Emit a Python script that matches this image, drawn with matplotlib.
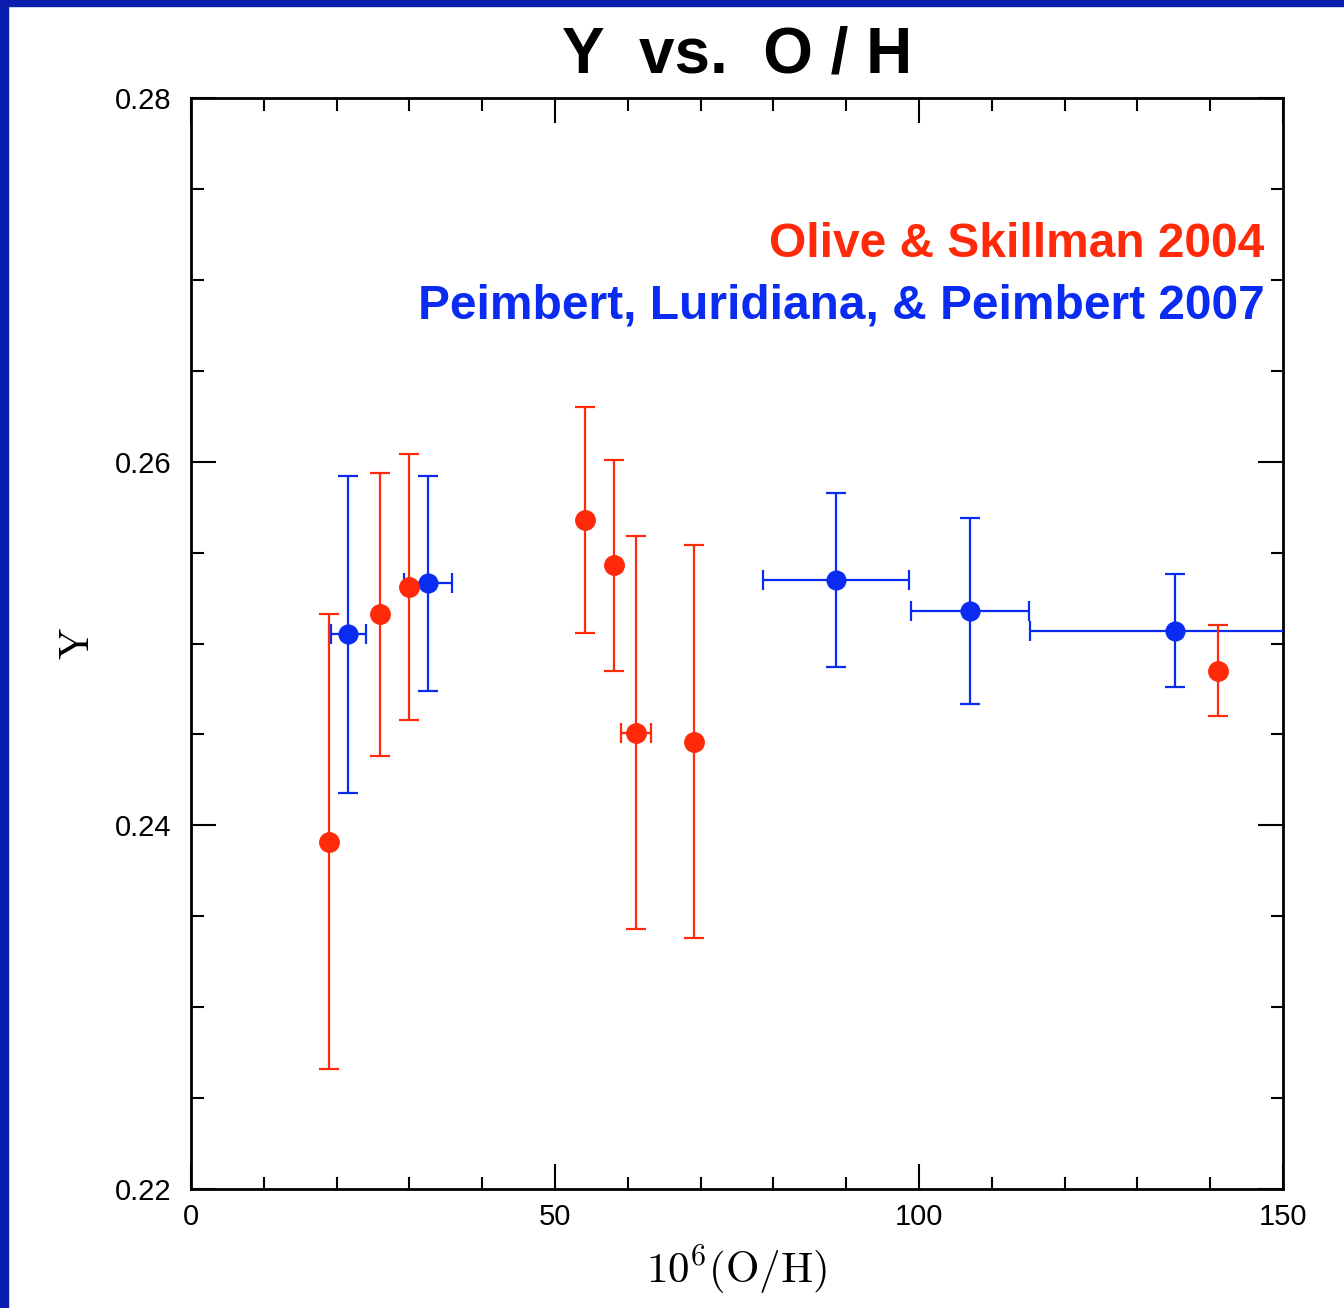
import matplotlib
matplotlib.use("Agg")
import matplotlib.pyplot as plt
from matplotlib.patches import Rectangle
from matplotlib.ticker import MultipleLocator

plt.rcParams["mathtext.fontset"] = "cm"

# Olive & Skillman 2004 (red)
os_x = [19.0, 26.0, 30.0, 54.1, 58.1, 61.1, 69.1, 141.1]
os_y = [0.2391, 0.2516, 0.2531, 0.2568, 0.2543, 0.2451, 0.2446, 0.2485]
os_yerr = [0.0125, 0.0078, 0.0073, 0.0062, 0.0058, 0.0108, 0.0108, 0.0025]
os_xerr = [0.0, 0.0, 0.0, 0.0, 0.0, 2.05, 0.0, 0.0]

# Peimbert, Luridiana & Peimbert 2007 (blue)
plp_x = [21.6, 32.5, 88.6, 107.0, 135.2]
plp_y = [0.2505, 0.2533, 0.2535, 0.2518, 0.2507]
plp_yerr = [0.0087, 0.0059, 0.0048, 0.0051, 0.0031]
plp_xerr = [2.4, 3.3, 10.0, 8.1, 20.0]

xticks_major = [0, 50, 100, 150]
yticks_major = [0.22, 0.24, 0.26, 0.28]
ytick_labels = ["0.22", "0.24", "0.26", "0.28"]

RED = "#ff2a0a"
BLUE = "#0a2cf2"
TICKFONT = ["Liberation Sans", "DejaVu Sans"]

fig = plt.figure(figsize=(13.44, 13.08), dpi=100)
fig.patch.set_facecolor("white")
# slide border (top and left)
fig.patches.append(Rectangle((0, 1 - 6 / 1308), 1, 6 / 1308, transform=fig.transFigure,
                             color="#0a1fb0", zorder=0))
fig.patches.append(Rectangle((0, 0), 8 / 1344, 1, transform=fig.transFigure,
                             color="#0a1fb0", zorder=0))

ax = fig.add_axes([191 / 1344, 119 / 1308, 1092 / 1344, 1091 / 1308])
ax.set_xlim(0, 150)
ax.set_ylim(0.22, 0.28)

ax.errorbar(plp_x, plp_y, yerr=plp_yerr, xerr=plp_xerr, fmt="o", color=BLUE,
            ecolor=BLUE, markersize=13.5, elinewidth=1.6, capsize=7, capthick=1.6,
            zorder=3)
ax.errorbar(os_x, os_y, yerr=os_yerr, xerr=os_xerr, fmt="o", color=RED,
            ecolor=RED, markersize=14, elinewidth=1.6, capsize=7, capthick=1.6,
            zorder=4)

ax.set_xticks(xticks_major)
ax.set_xticklabels([str(v) for v in xticks_major], fontsize=21, family=TICKFONT)
ax.set_yticks(yticks_major)
ax.set_yticklabels(ytick_labels, fontsize=21, family=TICKFONT)
ax.xaxis.set_minor_locator(MultipleLocator(10))
ax.yaxis.set_minor_locator(MultipleLocator(0.005))
ax.tick_params(which="both", direction="in", top=True, right=True, width=1.5,
               colors="black")
ax.tick_params(which="major", length=18)
ax.tick_params(axis="x", which="major", pad=10)
ax.tick_params(axis="y", which="major", pad=14)
ax.tick_params(which="minor", length=9)
for s in ax.spines.values():
    s.set_linewidth(2)

ax.set_xlabel(r"$10^6(\mathrm{O}/\mathrm{H})$", fontsize=31, labelpad=9)
ax.set_ylabel(r"$\mathrm{Y}$", fontsize=30, labelpad=12)

fig.text(737 / 1344, 1 - 55 / 1308, "Y  vs.  O / H", ha="center", va="center",
         fontsize=46, fontweight="bold", family=["Liberation Sans", "DejaVu Sans"])

ax.text(0.983, 0.866, "Olive & Skillman 2004", transform=ax.transAxes, ha="right",
        va="center", fontsize=34.5, fontweight="bold", color=RED,
        family=["Liberation Sans", "DejaVu Sans"])
ax.text(0.983, 0.809, "Peimbert, Luridiana, & Peimbert 2007", transform=ax.transAxes,
        ha="right", va="center", fontsize=34.5, fontweight="bold", color=BLUE,
        family=["Liberation Sans", "DejaVu Sans"])

fig.savefig("out.png", dpi=100)
